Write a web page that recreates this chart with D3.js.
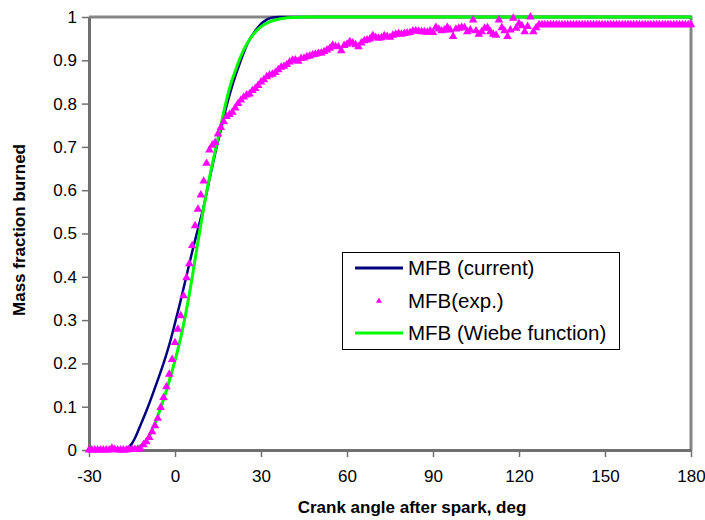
<!DOCTYPE html>
<html>
<head>
<meta charset="utf-8">
<script src="https://cdn.jsdelivr.net/npm/d3@7"></script>
<style>
  html, body { margin: 0; padding: 0; background: #fff; }
  svg { display: block; }
  text { font-family: Arial, "Liberation Sans", sans-serif; fill: #000; }
</style>
</head>
<body>
<svg id="chart" width="705" height="520"></svg>
<script>
// ---------------- data ----------------
const xTicks = [-30, 0, 30, 60, 90, 120, 150, 180];
const xTickLabels = ["-30", "0", "30", "60", "90", "120", "150", "180"];
const yTicks = [0, 0.1, 0.2, 0.3, 0.4, 0.5, 0.6, 0.7, 0.8, 0.9, 1];
const yTickLabels = ["0", "0.1", "0.2", "0.3", "0.4", "0.5", "0.6", "0.7", "0.8", "0.9", "1"];

// MFB (current) - model curve
const currentAngle = [-30, -18, -17, -16, -15, -14, -13, -12, -11, -10, -8, -6, -4, -2, 0, 2, 4, 6, 8, 10, 12, 14, 16, 18, 20, 22, 24, 26, 28, 30, 32, 34, 36, 180];
const currentValue = [0, 0, 0.002, 0.008, 0.015, 0.027, 0.042, 0.058, 0.074, 0.09, 0.125, 0.162, 0.2, 0.243, 0.293, 0.346, 0.402, 0.458, 0.51, 0.562, 0.625, 0.685, 0.74, 0.795, 0.842, 0.882, 0.918, 0.948, 0.968, 0.984, 0.994, 0.999, 1, 1];

// MFB (Wiebe function)
const wiebeAngle = [-30, -20, -15, -13, -11, -9, -7, -5, -3, -1, 1, 3, 5, 7, 9, 11, 13, 15, 17, 19, 21, 23, 25, 27, 29, 31, 33, 35, 38, 42, 46, 180];
const wiebeValue = [0, 0, 0.001, 0.006, 0.015, 0.032, 0.062, 0.097, 0.137, 0.183, 0.232, 0.29, 0.36, 0.44, 0.52, 0.595, 0.66, 0.72, 0.78, 0.835, 0.875, 0.91, 0.937, 0.957, 0.972, 0.982, 0.989, 0.993, 0.997, 0.999, 1, 1];

// MFB (exp.) - one sample per degree from -30 to 180
const expStart = -30;
const expValue = [
  // -30 .. -21
  0, 0, 0, 0, 0, 0, 0, 0, 0.004, 0.001,
  // -20 .. -11
  0, 0, 0, 0, 0.001, 0.001, 0.001, 0.002, 0.003, 0.012,
  // -10 .. -1
  0.019, 0.029, 0.042, 0.056, 0.073, 0.098, 0.121, 0.146, 0.175, 0.209,
  // 0 .. 9
  0.248, 0.279, 0.31, 0.356, 0.398, 0.43, 0.472, 0.518, 0.556, 0.589,
  // 10 .. 19
  0.621, 0.662, 0.693, 0.704, 0.71, 0.73, 0.745, 0.758, 0.77, 0.775,
  // 20 .. 29
  0.78, 0.79, 0.8, 0.808, 0.815, 0.82, 0.822, 0.83, 0.835, 0.842,
  // 30 .. 39
  0.85, 0.855, 0.862, 0.866, 0.868, 0.872, 0.878, 0.884, 0.886, 0.89,
  // 40 .. 49
  0.896, 0.9, 0.901, 0.898, 0.904, 0.905, 0.908, 0.91, 0.913, 0.914,
  // 50 .. 59
  0.916, 0.917, 0.92, 0.924, 0.928, 0.935, 0.932, 0.931, 0.922, 0.934,
  // 60 .. 69
  0.937, 0.943, 0.94, 0.936, 0.931, 0.94, 0.945, 0.947, 0.949, 0.957,
  // 70 .. 79
  0.953, 0.951, 0.952, 0.957, 0.955, 0.953, 0.958, 0.96, 0.962, 0.96,
  // 80 .. 89
  0.962, 0.963, 0.964, 0.968, 0.968, 0.967, 0.966, 0.966, 0.965, 0.968,
  // 90 .. 99
  0.964, 0.976, 0.972, 0.968, 0.97, 0.976, 0.97, 0.955, 0.972, 0.974,
  // 100 .. 109
  0.976, 0.975, 0.966, 0.97, 0.993, 0.968, 0.96, 0.966, 0.974, 0.975,
  // 110 .. 119
  0.966, 0.96, 0.958, 0.993, 0.975, 0.968, 0.955, 0.97, 0.997, 0.974,
  // 120 .. 129
  0.985, 0.98, 0.966, 0.978, 1.0, 0.966, 0.975, 0.982, 0.982, 0.982,
  // 130 .. 139
  0.982, 0.982, 0.982, 0.982, 0.982, 0.982, 0.982, 0.982, 0.982, 0.982,
  // 140 .. 149
  0.982, 0.982, 0.982, 0.982, 0.982, 0.982, 0.982, 0.982, 0.982, 0.982,
  // 150 .. 159
  0.982, 0.982, 0.982, 0.982, 0.982, 0.982, 0.982, 0.982, 0.982, 0.982,
  // 160 .. 169
  0.982, 0.982, 0.982, 0.982, 0.982, 0.982, 0.982, 0.982, 0.982, 0.982,
  // 170 .. 180
  0.982, 0.982, 0.982, 0.982, 0.982, 0.982, 0.982, 0.982, 0.982, 0.982, 0.982
];

const legendLabels = ["MFB (current)", "MFB(exp.)", "MFB (Wiebe function)"];

// ---------------- layout ----------------
const svg = d3.select("#chart");
const plot = { left: 89, right: 691, top: 17, bottom: 450 };

const x = d3.scaleLinear().domain([-30, 180]).range([plot.left, plot.right]);
const y = d3.scaleLinear().domain([0, 1]).range([plot.bottom, plot.top]);

// frame (top / right border)
svg.append("path")
  .attr("d", `M${plot.left},${plot.top}H${plot.right}V${plot.bottom}`)
  .attr("fill", "none").attr("stroke", "#868686").attr("stroke-width", 3);

// Y axis
const yAxis = d3.axisLeft(y).tickValues(yTicks).tickSize(7).tickSizeOuter(0)
  .tickFormat((d, i) => yTickLabels[i]);
const gy = svg.append("g").attr("transform", `translate(${plot.left},0)`).call(yAxis);
gy.select(".domain").attr("stroke", "#707070").attr("stroke-width", 3);
gy.selectAll(".tick line").attr("stroke", "#707070").attr("stroke-width", 1.5);
gy.selectAll(".tick text").attr("x", -12).style("font-size", "17px")
  .style("font-family", "Arial, 'Liberation Sans', sans-serif");

// X axis
const xAxis = d3.axisBottom(x).tickValues(xTicks).tickSize(7).tickSizeOuter(0)
  .tickFormat((d, i) => xTickLabels[i]);
const gx = svg.append("g").attr("transform", `translate(0,${plot.bottom})`).call(xAxis);
gx.select(".domain").attr("stroke", "#707070").attr("stroke-width", 3);
gx.selectAll(".tick line").attr("stroke", "#707070").attr("stroke-width", 1.5);
gx.selectAll(".tick text").attr("y", 20).style("font-size", "17px")
  .style("font-family", "Arial, 'Liberation Sans', sans-serif");

// axis titles
svg.append("text").attr("x", 412).attr("y", 513).attr("text-anchor", "middle")
  .style("font-size", "17px").style("font-weight", "bold")
  .text("Crank angle after spark, deg");
svg.append("text")
  .attr("transform", "translate(25,230) rotate(-90)")
  .attr("text-anchor", "middle")
  .style("font-size", "17px").style("font-weight", "bold")
  .text("Mass fraction burned");

// lines
const lineGen = d3.line().x(d => x(d[0])).y(d => y(d[1])).curve(d3.curveMonotoneX);
const currentData = currentAngle.map((a, i) => [a, currentValue[i]]);
const wiebeData = wiebeAngle.map((a, i) => [a, wiebeValue[i]]);
const expData = expValue.map((v, i) => [expStart + i, v]);

svg.append("path").datum(currentData).attr("d", lineGen)
  .attr("fill", "none").attr("stroke", "#000080").attr("stroke-width", 2.5);
svg.append("path").datum(wiebeData).attr("d", lineGen)
  .attr("fill", "none").attr("stroke", "#00FF00").attr("stroke-width", 3);

// experimental triangles
const tri = d3.symbol().type(d3.symbolTriangle).size(32);
svg.append("g").selectAll("path").data(expData).join("path")
  .attr("d", tri)
  .attr("transform", d => `translate(${x(d[0])},${y(d[1])})`)
  .attr("fill", "#FF00FF");

// legend
const lg = svg.append("g");
lg.append("rect").attr("x", 342.5).attr("y", 252.5).attr("width", 277).attr("height", 97)
  .attr("fill", "#fff").attr("stroke", "#000").attr("stroke-width", 1);
const rowY = [268, 301, 333];
lg.append("line").attr("x1", 355).attr("x2", 403).attr("y1", rowY[0]).attr("y2", rowY[0])
  .attr("stroke", "#000080").attr("stroke-width", 3);
lg.append("path").attr("d", d3.symbol().type(d3.symbolTriangle).size(16))
  .attr("transform", `translate(379,${rowY[1]})`).attr("fill", "#FF00FF");
lg.append("line").attr("x1", 355).attr("x2", 403).attr("y1", rowY[2]).attr("y2", rowY[2])
  .attr("stroke", "#00FF00").attr("stroke-width", 3);
lg.selectAll("text.lab").data(legendLabels).join("text").attr("class", "lab")
  .attr("x", 408).attr("y", (d, i) => rowY[i]).attr("dy", "0.35em")
  .style("font-size", "20.5px").text(d => d);
</script>
</body>
</html>
